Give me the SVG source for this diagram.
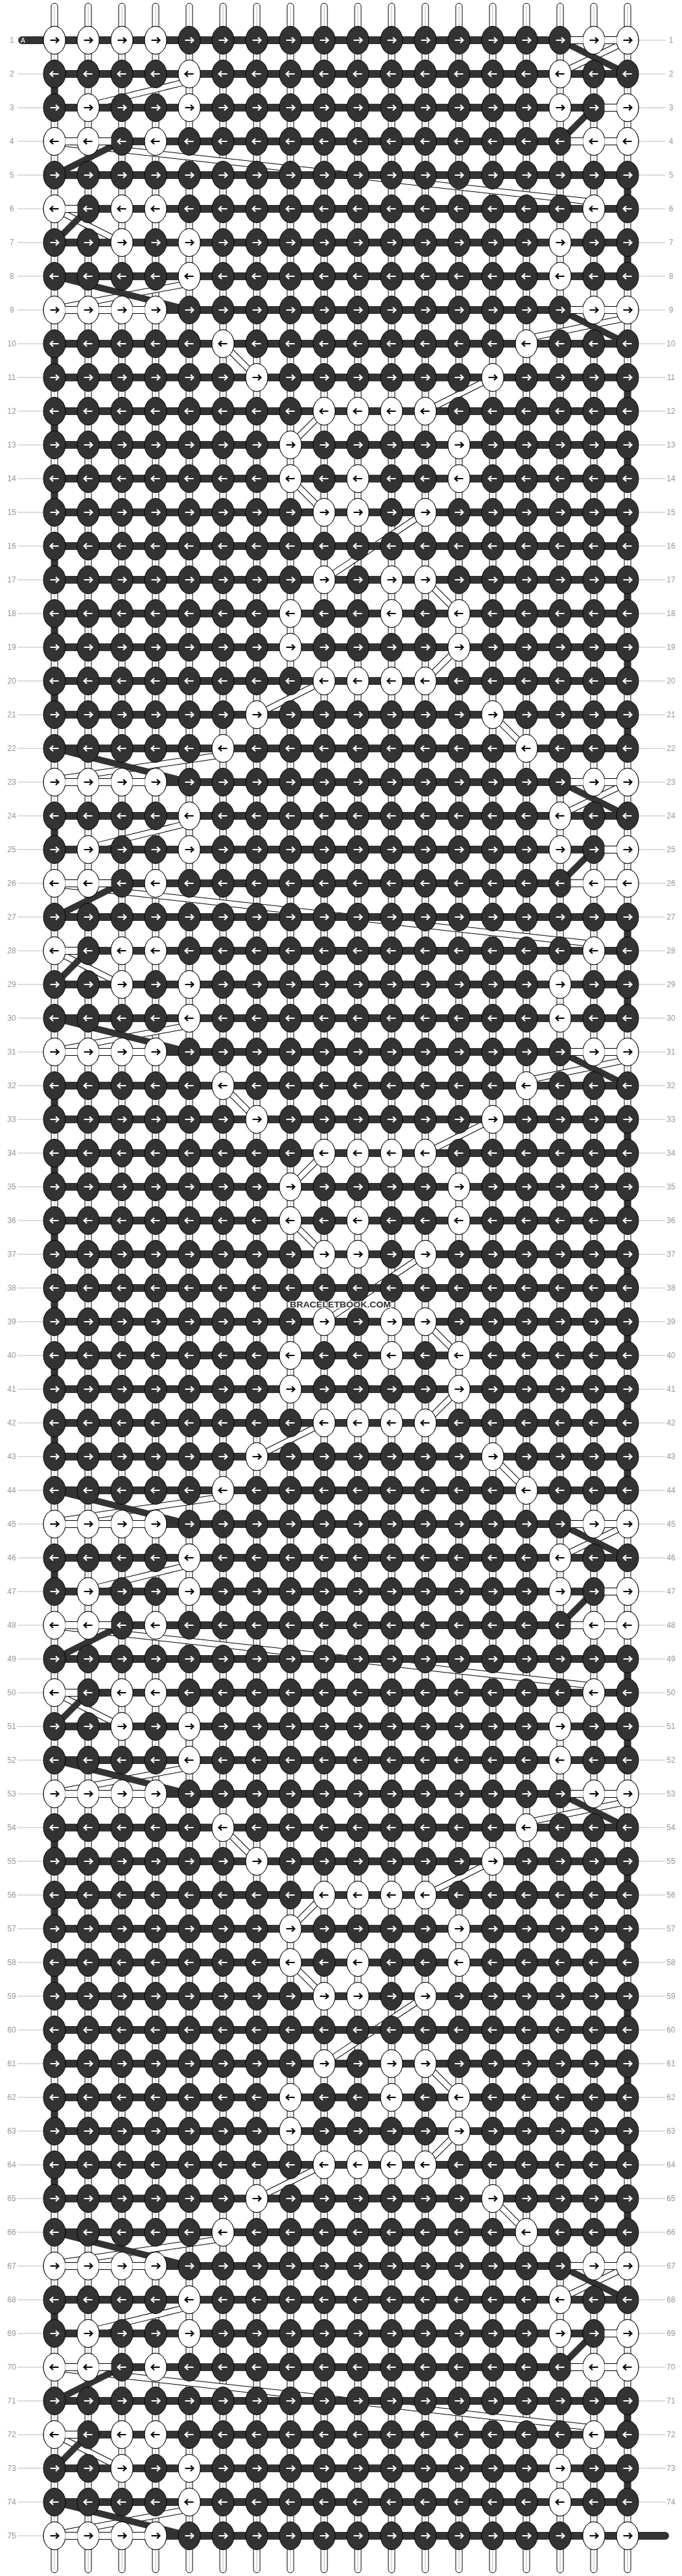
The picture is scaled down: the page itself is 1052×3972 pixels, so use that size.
<svg xmlns="http://www.w3.org/2000/svg" width="1052" height="3972" viewBox="0 0 1052 3972">
<style>
.vs rect{fill:#fff;stroke:#000;stroke-width:1}
.vc{fill:none;stroke:#bbb;stroke-width:1}
.bar{fill:#333}
.kd{fill:#333;stroke:#000;stroke-width:1}
.kw{fill:#fff;stroke:#000;stroke-width:1}
.aw{fill:none;stroke:#fff;stroke-width:2.2}
.ab{fill:none;stroke:#000;stroke-width:2.2}
.num{font-family:"Liberation Sans",Arial,sans-serif;font-size:12px;fill:#999;text-anchor:middle}
.nl{fill:none;stroke:#bbb;stroke-width:1}
</style>
<defs>
<g id="kR"><ellipse rx="17" ry="21.5" class="kd"/><path class="aw" d="M-6.5 0H6M2-4.3L6.5 0L2 4.3"/></g>
<g id="kL"><ellipse rx="17" ry="21.5" class="kd"/><path class="aw" d="M6.5 0H-6M-2-4.3L-6.5 0L-2 4.3"/></g>
<g id="wR"><ellipse rx="17" ry="21.5" class="kw"/><path class="ab" d="M-6.5 0H6M2-4.3L6.5 0L2 4.3"/></g>
<g id="wL"><ellipse rx="17" ry="21.5" class="kw"/><path class="ab" d="M6.5 0H-6M-2-4.3L-6.5 0L-2 4.3"/></g>
<g id="R"><rect class="bar" x="84" y="-6" width="884" height="12"/><use href="#kR" x="84"/><use href="#kR" x="136"/><use href="#kR" x="188"/><use href="#kR" x="240"/><use href="#kR" x="292"/><use href="#kR" x="344"/><use href="#kR" x="396"/><use href="#kR" x="448"/><use href="#kR" x="500"/><use href="#kR" x="552"/><use href="#kR" x="604"/><use href="#kR" x="656"/><use href="#kR" x="708"/><use href="#kR" x="760"/><use href="#kR" x="812"/><use href="#kR" x="864"/><use href="#kR" x="916"/><use href="#kR" x="968"/></g>
<g id="L"><rect class="bar" x="84" y="-6" width="884" height="12"/><use href="#kL" x="84"/><use href="#kL" x="136"/><use href="#kL" x="188"/><use href="#kL" x="240"/><use href="#kL" x="292"/><use href="#kL" x="344"/><use href="#kL" x="396"/><use href="#kL" x="448"/><use href="#kL" x="500"/><use href="#kL" x="552"/><use href="#kL" x="604"/><use href="#kL" x="656"/><use href="#kL" x="708"/><use href="#kL" x="760"/><use href="#kL" x="812"/><use href="#kL" x="864"/><use href="#kL" x="916"/><use href="#kL" x="968"/></g>
<g id="KA">
<use href="#R" y="62"/><use href="#wR" x="84" y="62"/><use href="#wR" x="136" y="62"/><use href="#wR" x="188" y="62"/><use href="#wR" x="240" y="62"/><use href="#wR" x="916" y="62"/><use href="#wR" x="968" y="62"/>
<use href="#L" y="114"/><use href="#wL" x="292" y="114"/><use href="#wL" x="864" y="114"/>
<use href="#R" y="166"/><use href="#wR" x="136" y="166"/><use href="#wR" x="292" y="166"/><use href="#wR" x="864" y="166"/><use href="#wR" x="968" y="166"/>
<use href="#L" y="218"/><use href="#wL" x="84" y="218"/><use href="#wL" x="136" y="218"/><use href="#wL" x="240" y="218"/><use href="#wL" x="916" y="218"/><use href="#wL" x="968" y="218"/>
<use href="#R" y="270"/>
<use href="#L" y="322"/><use href="#wL" x="84" y="322"/><use href="#wL" x="188" y="322"/><use href="#wL" x="240" y="322"/><use href="#wL" x="916" y="322"/>
<use href="#R" y="374"/><use href="#wR" x="188" y="374"/><use href="#wR" x="292" y="374"/><use href="#wR" x="864" y="374"/>
<use href="#L" y="426"/><use href="#wL" x="292" y="426"/><use href="#wL" x="864" y="426"/>
<use href="#R" y="478"/><use href="#wR" x="84" y="478"/><use href="#wR" x="136" y="478"/><use href="#wR" x="188" y="478"/><use href="#wR" x="240" y="478"/><use href="#wR" x="916" y="478"/><use href="#wR" x="968" y="478"/>
</g>
<g id="KB">
<use href="#L" y="530"/><use href="#wL" x="344" y="530"/><use href="#wL" x="812" y="530"/>
<use href="#R" y="582"/><use href="#wR" x="396" y="582"/><use href="#wR" x="760" y="582"/>
<use href="#L" y="634"/><use href="#wL" x="500" y="634"/><use href="#wL" x="552" y="634"/><use href="#wL" x="604" y="634"/><use href="#wL" x="656" y="634"/>
<use href="#R" y="686"/><use href="#wR" x="448" y="686"/><use href="#wR" x="708" y="686"/>
<use href="#L" y="738"/><use href="#wL" x="448" y="738"/><use href="#wL" x="552" y="738"/><use href="#wL" x="708" y="738"/>
<use href="#R" y="790"/><use href="#wR" x="500" y="790"/><use href="#wR" x="552" y="790"/><use href="#wR" x="656" y="790"/>
<use href="#L" y="842"/>
<use href="#R" y="894"/><use href="#wR" x="500" y="894"/><use href="#wR" x="604" y="894"/><use href="#wR" x="656" y="894"/>
<use href="#L" y="946"/><use href="#wL" x="448" y="946"/><use href="#wL" x="604" y="946"/><use href="#wL" x="708" y="946"/>
<use href="#R" y="998"/><use href="#wR" x="448" y="998"/><use href="#wR" x="708" y="998"/>
<use href="#L" y="1050"/><use href="#wL" x="500" y="1050"/><use href="#wL" x="552" y="1050"/><use href="#wL" x="604" y="1050"/><use href="#wL" x="656" y="1050"/>
<use href="#R" y="1102"/><use href="#wR" x="396" y="1102"/><use href="#wR" x="760" y="1102"/>
<use href="#L" y="1154"/><use href="#wL" x="344" y="1154"/><use href="#wL" x="812" y="1154"/>
</g>
<g id="wg"><rect x="-9.5" y="-6" width="19" height="12" fill="#fff"/><path d="M-9.5-5.5h19M-9.5 5.5h19" stroke="#000" stroke-width="1" fill="none"/></g>
<g id="WG">
<use href="#wg" x="890" y="62"/><use href="#wg" x="942" y="62"/>
<use href="#wg" x="942" y="166"/>
<use href="#wg" x="110" y="218"/><use href="#wg" x="162" y="218"/><use href="#wg" x="890" y="218"/><use href="#wg" x="942" y="218"/>
<use href="#wg" x="110" y="322"/>
<use href="#wg" x="110" y="478"/><use href="#wg" x="162" y="478"/><use href="#wg" x="214" y="478"/>
</g>
<g id="WR9"><use href="#wg" x="890" y="478"/><use href="#wg" x="942" y="478"/></g>
<g id="WL1"><use href="#wg" x="110" y="62"/><use href="#wg" x="162" y="62"/><use href="#wg" x="214" y="62"/></g>
<path id="TA" d="M958 68L874 108M292 125L136 163M84 219.5L916 311.5M84 322L188 374M292 437L84 476"/>
<path id="TB" d="M968 490L812 522M344 530L396 582M760 582L656 634M500 634L448 686M448 738L500 790M656 790L500 894M656 894L708 946M708 998L656 1050M500 1050L396 1102M760 1102L812 1154M344 1164L84 1202"/>
<path id="DA" d="M864 62L968 114M916 166L864 218M188 218L84 270M136 322L84 374M84 426L292 478M84 114V166M968 270V322M968 374V426"/>
<path id="DB" d="M864 478L968 530M84 1154L292 1206M84 530V582M968 582V634M84 634V686M968 686V738M84 738V790M968 790V842M84 842V894M968 894V946M84 946V998M968 998V1050M84 1050V1102M968 1102V1154"/>
</defs>
<rect width="1052" height="3972" fill="#fff"/>
<g id="strands">
<g class="vs"><rect x="79" y="5" width="10" height="3962" rx="5"/><rect x="131" y="5" width="10" height="3962" rx="5"/><rect x="183" y="5" width="10" height="3962" rx="5"/><rect x="235" y="5" width="10" height="3962" rx="5"/><rect x="287" y="5" width="10" height="3962" rx="5"/><rect x="339" y="5" width="10" height="3962" rx="5"/><rect x="391" y="5" width="10" height="3962" rx="5"/><rect x="443" y="5" width="10" height="3962" rx="5"/><rect x="495" y="5" width="10" height="3962" rx="5"/><rect x="547" y="5" width="10" height="3962" rx="5"/><rect x="599" y="5" width="10" height="3962" rx="5"/><rect x="651" y="5" width="10" height="3962" rx="5"/><rect x="703" y="5" width="10" height="3962" rx="5"/><rect x="755" y="5" width="10" height="3962" rx="5"/><rect x="807" y="5" width="10" height="3962" rx="5"/><rect x="859" y="5" width="10" height="3962" rx="5"/><rect x="911" y="5" width="10" height="3962" rx="5"/><rect x="963" y="5" width="10" height="3962" rx="5"/></g>
<path class="vc" d="M84 9V3963M136 9V3963M188 9V3963M240 9V3963M292 9V3963M344 9V3963M396 9V3963M448 9V3963M500 9V3963M552 9V3963M604 9V3963M656 9V3963M708 9V3963M760 9V3963M812 9V3963M864 9V3963M916 9V3963M968 9V3963"/>
</g>
<g id="connectors">
<g fill="none" stroke="#000" stroke-width="10"><use href="#TA"/><use href="#TA" y="1144"/><use href="#TA" y="2288"/><use href="#TA" y="3432"/><use href="#TB"/><use href="#TB" y="1144"/><use href="#TB" y="2288"/></g>
<g fill="none" stroke="#fff" stroke-width="8"><use href="#TA"/><use href="#TA" y="1144"/><use href="#TA" y="2288"/><use href="#TA" y="3432"/><use href="#TB"/><use href="#TB" y="1144"/><use href="#TB" y="2288"/></g>
<g fill="none" stroke="#333" stroke-width="10"><use href="#DA"/><use href="#DA" y="1144"/><use href="#DA" y="2288"/><use href="#DA" y="3432"/><use href="#DB"/><use href="#DB" y="1144"/><use href="#DB" y="2288"/></g>
<rect x="28" y="56" width="60" height="12" rx="6" fill="#333"/>
<rect x="960" y="3904" width="72" height="12" rx="6" fill="#333"/>
</g>
<g id="knots">
<use href="#KA"/><use href="#KB"/><use href="#KA" y="1144"/><use href="#KB" y="1144"/><use href="#KA" y="2288"/><use href="#KB" y="2288"/><use href="#KA" y="3432"/>
</g>
<g id="gaps">
<use href="#WG"/><use href="#WG" y="1144"/><use href="#WG" y="2288"/><use href="#WG" y="3432"/>
<use href="#WR9"/><use href="#WR9" y="1144"/><use href="#WR9" y="2288"/>
<use href="#WL1" y="1144"/><use href="#WL1" y="2288"/><use href="#WL1" y="3432"/>
</g>
<g id="labels">
<text x="32" y="66" font-family="Liberation Sans,Arial,sans-serif" font-size="10" fill="#fff">A</text>
<path class="nl" d="M27 114H66M27 166H66M27 218H66M27 270H66M27 322H66M27 374H66M27 426H66M27 478H66M27 530H66M27 582H66M27 634H66M27 686H66M27 738H66M27 790H66M27 842H66M27 894H66M27 946H66M27 998H66M27 1050H66M27 1102H66M27 1154H66M27 1206H66M27 1258H66M27 1310H66M27 1362H66M27 1414H66M27 1466H66M27 1518H66M27 1570H66M27 1622H66M27 1674H66M27 1726H66M27 1778H66M27 1830H66M27 1882H66M27 1934H66M27 1986H66M27 2038H66M27 2090H66M27 2142H66M27 2194H66M27 2246H66M27 2298H66M27 2350H66M27 2402H66M27 2454H66M27 2506H66M27 2558H66M27 2610H66M27 2662H66M27 2714H66M27 2766H66M27 2818H66M27 2870H66M27 2922H66M27 2974H66M27 3026H66M27 3078H66M27 3130H66M27 3182H66M27 3234H66M27 3286H66M27 3338H66M27 3390H66M27 3442H66M27 3494H66M27 3546H66M27 3598H66M27 3650H66M27 3702H66M27 3754H66M27 3806H66M27 3858H66M27 3910H66"/>
<path class="nl" d="M986 62H1026M986 114H1026M986 166H1026M986 218H1026M986 270H1026M986 322H1026M986 374H1026M986 426H1026M986 478H1026M986 530H1026M986 582H1026M986 634H1026M986 686H1026M986 738H1026M986 790H1026M986 842H1026M986 894H1026M986 946H1026M986 998H1026M986 1050H1026M986 1102H1026M986 1154H1026M986 1206H1026M986 1258H1026M986 1310H1026M986 1362H1026M986 1414H1026M986 1466H1026M986 1518H1026M986 1570H1026M986 1622H1026M986 1674H1026M986 1726H1026M986 1778H1026M986 1830H1026M986 1882H1026M986 1934H1026M986 1986H1026M986 2038H1026M986 2090H1026M986 2142H1026M986 2194H1026M986 2246H1026M986 2298H1026M986 2350H1026M986 2402H1026M986 2454H1026M986 2506H1026M986 2558H1026M986 2610H1026M986 2662H1026M986 2714H1026M986 2766H1026M986 2818H1026M986 2870H1026M986 2922H1026M986 2974H1026M986 3026H1026M986 3078H1026M986 3130H1026M986 3182H1026M986 3234H1026M986 3286H1026M986 3338H1026M986 3390H1026M986 3442H1026M986 3494H1026M986 3546H1026M986 3598H1026M986 3650H1026M986 3702H1026M986 3754H1026M986 3806H1026M986 3858H1026"/>
<g class="num">
<text x="18" y="66">1</text><text x="18" y="118">2</text><text x="18" y="170">3</text><text x="18" y="222">4</text><text x="18" y="274">5</text><text x="18" y="326">6</text><text x="18" y="378">7</text><text x="18" y="430">8</text><text x="18" y="482">9</text><text x="18" y="534">10</text><text x="18" y="586">11</text><text x="18" y="638">12</text><text x="18" y="690">13</text><text x="18" y="742">14</text><text x="18" y="794">15</text><text x="18" y="846">16</text><text x="18" y="898">17</text><text x="18" y="950">18</text><text x="18" y="1002">19</text><text x="18" y="1054">20</text><text x="18" y="1106">21</text><text x="18" y="1158">22</text><text x="18" y="1210">23</text><text x="18" y="1262">24</text><text x="18" y="1314">25</text><text x="18" y="1366">26</text><text x="18" y="1418">27</text><text x="18" y="1470">28</text><text x="18" y="1522">29</text><text x="18" y="1574">30</text><text x="18" y="1626">31</text><text x="18" y="1678">32</text><text x="18" y="1730">33</text><text x="18" y="1782">34</text><text x="18" y="1834">35</text><text x="18" y="1886">36</text><text x="18" y="1938">37</text><text x="18" y="1990">38</text><text x="18" y="2042">39</text><text x="18" y="2094">40</text><text x="18" y="2146">41</text><text x="18" y="2198">42</text><text x="18" y="2250">43</text><text x="18" y="2302">44</text><text x="18" y="2354">45</text><text x="18" y="2406">46</text><text x="18" y="2458">47</text><text x="18" y="2510">48</text><text x="18" y="2562">49</text><text x="18" y="2614">50</text><text x="18" y="2666">51</text><text x="18" y="2718">52</text><text x="18" y="2770">53</text><text x="18" y="2822">54</text><text x="18" y="2874">55</text><text x="18" y="2926">56</text><text x="18" y="2978">57</text><text x="18" y="3030">58</text><text x="18" y="3082">59</text><text x="18" y="3134">60</text><text x="18" y="3186">61</text><text x="18" y="3238">62</text><text x="18" y="3290">63</text><text x="18" y="3342">64</text><text x="18" y="3394">65</text><text x="18" y="3446">66</text><text x="18" y="3498">67</text><text x="18" y="3550">68</text><text x="18" y="3602">69</text><text x="18" y="3654">70</text><text x="18" y="3706">71</text><text x="18" y="3758">72</text><text x="18" y="3810">73</text><text x="18" y="3862">74</text><text x="18" y="3914">75</text>
<text x="1035" y="66">1</text><text x="1035" y="118">2</text><text x="1035" y="170">3</text><text x="1035" y="222">4</text><text x="1035" y="274">5</text><text x="1035" y="326">6</text><text x="1035" y="378">7</text><text x="1035" y="430">8</text><text x="1035" y="482">9</text><text x="1035" y="534">10</text><text x="1035" y="586">11</text><text x="1035" y="638">12</text><text x="1035" y="690">13</text><text x="1035" y="742">14</text><text x="1035" y="794">15</text><text x="1035" y="846">16</text><text x="1035" y="898">17</text><text x="1035" y="950">18</text><text x="1035" y="1002">19</text><text x="1035" y="1054">20</text><text x="1035" y="1106">21</text><text x="1035" y="1158">22</text><text x="1035" y="1210">23</text><text x="1035" y="1262">24</text><text x="1035" y="1314">25</text><text x="1035" y="1366">26</text><text x="1035" y="1418">27</text><text x="1035" y="1470">28</text><text x="1035" y="1522">29</text><text x="1035" y="1574">30</text><text x="1035" y="1626">31</text><text x="1035" y="1678">32</text><text x="1035" y="1730">33</text><text x="1035" y="1782">34</text><text x="1035" y="1834">35</text><text x="1035" y="1886">36</text><text x="1035" y="1938">37</text><text x="1035" y="1990">38</text><text x="1035" y="2042">39</text><text x="1035" y="2094">40</text><text x="1035" y="2146">41</text><text x="1035" y="2198">42</text><text x="1035" y="2250">43</text><text x="1035" y="2302">44</text><text x="1035" y="2354">45</text><text x="1035" y="2406">46</text><text x="1035" y="2458">47</text><text x="1035" y="2510">48</text><text x="1035" y="2562">49</text><text x="1035" y="2614">50</text><text x="1035" y="2666">51</text><text x="1035" y="2718">52</text><text x="1035" y="2770">53</text><text x="1035" y="2822">54</text><text x="1035" y="2874">55</text><text x="1035" y="2926">56</text><text x="1035" y="2978">57</text><text x="1035" y="3030">58</text><text x="1035" y="3082">59</text><text x="1035" y="3134">60</text><text x="1035" y="3186">61</text><text x="1035" y="3238">62</text><text x="1035" y="3290">63</text><text x="1035" y="3342">64</text><text x="1035" y="3394">65</text><text x="1035" y="3446">66</text><text x="1035" y="3498">67</text><text x="1035" y="3550">68</text><text x="1035" y="3602">69</text><text x="1035" y="3654">70</text><text x="1035" y="3706">71</text><text x="1035" y="3758">72</text><text x="1035" y="3810">73</text><text x="1035" y="3862">74</text>
</g>
<text x="525" y="2016" text-anchor="middle" font-family="Liberation Sans,Arial,sans-serif" font-weight="bold" font-size="13" textLength="156" lengthAdjust="spacingAndGlyphs" fill="#333" stroke="#fff" stroke-width="2" paint-order="stroke">BRACELETBOOK.COM</text>
</g>
</svg>
